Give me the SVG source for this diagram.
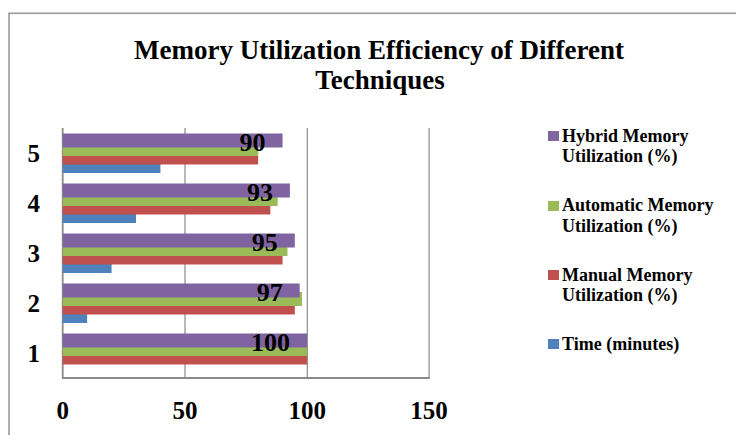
<svg xmlns="http://www.w3.org/2000/svg" width="736" height="435" viewBox="0 0 736 435">
  <style>
    text { font-family: "Liberation Serif", "Times New Roman", serif; font-weight: bold; fill: #000; }
    .title { font-size: 27px; text-anchor: middle; }
    .tick { font-size: 25px; }
    .cat { font-size: 25px; text-anchor: end; }
    .val { font-size: 26px; text-anchor: end; }
    .leg { font-size: 18px; }
    .grid { stroke: #8a8a8a; stroke-width: 1.2; fill: none; }
    .axis { stroke: #8a8a8a; stroke-width: 1.8; fill: none; }
    .frame { stroke: #9a9a9a; stroke-width: 1.6; fill: #fff; }
    .time { fill: #4F81BD; }
    .manual { fill: #C0504D; }
    .auto { fill: #9BBB59; }
    .hybrid { fill: #8064A2; }
  </style>

  <rect width="736" height="435" fill="#fff"/>
  <!-- chart frame, runs off the right and bottom edges -->
  <rect class="frame" x="9" y="13.3" width="740" height="440"/>

  <g id="title">
    <text class="title" x="379" y="59.3">Memory Utilization Efficiency of Different</text>
    <text class="title" x="380" y="89.3">Techniques</text>
  </g>

  <!-- gridlines and axes -->
  <g id="axes">
    <line class="grid" x1="185" y1="128" x2="185" y2="378"/>
    <line class="grid" x1="307.3" y1="128" x2="307.3" y2="378"/>
    <line class="grid" x1="429.1" y1="128" x2="429.1" y2="378"/>
    <line class="axis" x1="62.7" y1="128" x2="62.7" y2="378"/>
    <line class="axis" x1="62" y1="378" x2="429.8" y2="378"/>
    <text class="tick" x="62.7" y="419" text-anchor="middle">0</text>
    <text class="tick" x="185" y="419" text-anchor="middle">50</text>
    <text class="tick" x="307.3" y="419" text-anchor="middle">100</text>
    <text class="tick" x="429.1" y="419" text-anchor="middle">150</text>
  </g>

  <!-- bars: drawn Time, Manual, Automatic, Hybrid so each later bar lies on top -->
  <g id="cat-5">
    <text class="cat" x="40" y="162.3">5</text>
    <rect class="time" x="62.7" y="159" width="97.72" height="14"/>
    <rect class="manual" x="62.7" y="150.5" width="195.44" height="14"/>
    <rect class="auto" x="62.7" y="142" width="195.44" height="14"/>
    <rect class="hybrid" x="62.7" y="133.5" width="219.87" height="14"/>
    <text class="val" x="265.6" y="151">90</text>
  </g>
  <g id="cat-4">
    <text class="cat" x="40" y="212.3">4</text>
    <rect class="time" x="62.7" y="209" width="73.29" height="14"/>
    <rect class="manual" x="62.7" y="200.5" width="207.66" height="14"/>
    <rect class="auto" x="62.7" y="192" width="214.98" height="14"/>
    <rect class="hybrid" x="62.7" y="183.5" width="227.2" height="14"/>
    <text class="val" x="272.9" y="201">93</text>
  </g>
  <g id="cat-3">
    <text class="cat" x="40" y="262.3">3</text>
    <rect class="time" x="62.7" y="259" width="48.86" height="14"/>
    <rect class="manual" x="62.7" y="250.5" width="219.87" height="14"/>
    <rect class="auto" x="62.7" y="242" width="224.76" height="14"/>
    <rect class="hybrid" x="62.7" y="233.5" width="232.09" height="14"/>
    <text class="val" x="277.8" y="251">95</text>
  </g>
  <g id="cat-2">
    <text class="cat" x="40" y="312.3">2</text>
    <rect class="time" x="62.7" y="309" width="24.43" height="14"/>
    <rect class="manual" x="62.7" y="300.5" width="232.09" height="14"/>
    <rect class="auto" x="62.7" y="292" width="239.41" height="14"/>
    <rect class="hybrid" x="62.7" y="283.5" width="236.97" height="14"/>
    <text class="val" x="282.7" y="301">97</text>
  </g>
  <g id="cat-1">
    <text class="cat" x="40" y="362.3">1</text>
    <rect class="manual" x="62.7" y="350.5" width="244.3" height="14"/>
    <rect class="auto" x="62.7" y="342" width="244.3" height="14"/>
    <rect class="hybrid" x="62.7" y="333.5" width="244.3" height="14"/>
    <text class="val" x="290" y="351">100</text>
  </g>

  <g id="legend">
    <rect class="hybrid" x="548" y="131" width="11" height="10"/>
    <text class="leg" x="562" y="141.7">Hybrid Memory</text>
    <text class="leg" x="562" y="162">Utilization (%)</text>
    <rect class="auto" x="548" y="201" width="11" height="10"/>
    <text class="leg" x="562" y="211">Automatic Memory</text>
    <text class="leg" x="562" y="231.5">Utilization (%)</text>
    <rect class="manual" x="548" y="270" width="11" height="10"/>
    <text class="leg" x="562" y="280.5">Manual Memory</text>
    <text class="leg" x="562" y="301">Utilization (%)</text>
    <rect class="time" x="548" y="339" width="11" height="10"/>
    <text class="leg" x="562" y="350">Time (minutes)</text>
  </g>
</svg>
